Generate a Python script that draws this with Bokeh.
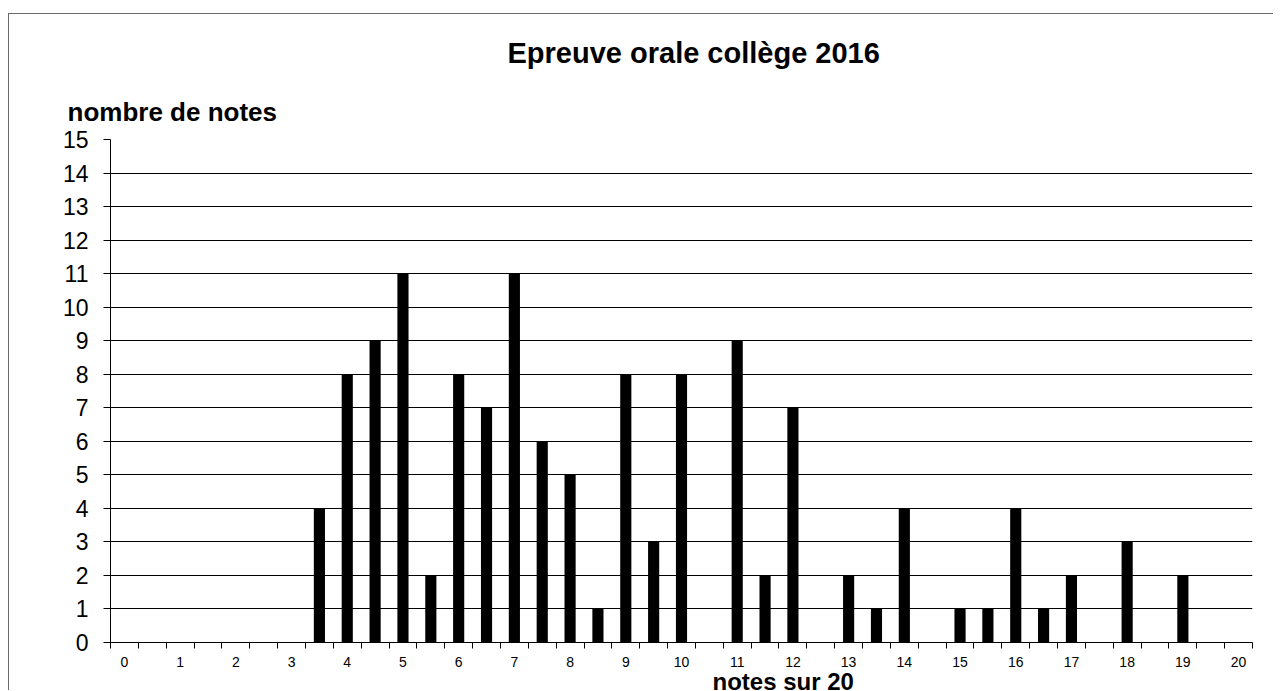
from bokeh.plotting import figure
from bokeh.models import Range1d, FixedTicker, Title
from bokeh.embed import file_html
from bokeh.resources import INLINE

# ---- data ----
notes = [0, 0.5, 1, 1.5, 2, 2.5, 3, 3.5, 4, 4.5, 5, 5.5, 6, 6.5, 7, 7.5, 8, 8.5, 9, 9.5,
         10, 10.5, 11, 11.5, 12, 12.5, 13, 13.5, 14, 14.5, 15, 15.5, 16, 16.5, 17, 17.5,
         18, 18.5, 19, 19.5, 20]
counts = [0, 0, 0, 0, 0, 0, 0, 4, 8, 9, 11, 2, 8, 7, 11, 6, 5, 1, 8, 3,
          8, 0, 9, 2, 7, 0, 2, 1, 4, 0, 1, 1, 4, 1, 2, 0,
          3, 0, 2, 0, 0]
x_tick_values = [0, 1, 2, 3, 4, 5, 6, 7, 8, 9, 10, 11, 12, 13, 14, 15, 16, 17, 18, 19, 20]
y_tick_values = [0, 1, 2, 3, 4, 5, 6, 7, 8, 9, 10, 11, 12, 13, 14, 15]
title_text = "Epreuve orale collège 2016"
y_title_text = "nombre de notes"
x_title_text = "notes sur 20"

FONT = "Liberation Sans"
step = 0.5
x_bounds = [n - step / 2 for n in notes] + [notes[-1] + step / 2]

p = figure(width=1265, height=677, output_backend="svg", toolbar_location=None,
           title=None,
           x_range=Range1d(notes[0] - step / 2, notes[-1] + step / 2),
           y_range=Range1d(0, 15),
           min_border_left=101, min_border_top=125, min_border_bottom=48,
           min_border_right=22,
           styles={"border-left": "1px solid #6a6a6a", "border-top": "1px solid #6a6a6a",
                   "margin-top": "13px", "margin-left": "8px"})
p.outline_line_color = None
p.background_fill_color = "white"
p.border_fill_color = "white"

p.vbar(x=notes, top=counts, width=0.2, fill_color="black", line_color=None)

# x axis
xa = p.xaxis[0]
xa.ticker = FixedTicker(ticks=x_tick_values, minor_ticks=x_bounds)
xa.major_tick_line_color = None
xa.major_tick_out = 6
xa.major_tick_in = 0
xa.minor_tick_line_color = "black"
xa.minor_tick_out = 6
xa.minor_tick_in = 0
xa.axis_line_color = "black"
xa.major_label_standoff = 8
xa.major_label_text_font = FONT
xa.major_label_text_font_size = "14px"
xa.major_label_text_color = "black"

# y axis
ya = p.yaxis[0]
ya.ticker = FixedTicker(ticks=y_tick_values)
ya.minor_tick_line_color = None
ya.major_tick_out = 7
ya.major_tick_in = 0
ya.major_tick_line_color = "black"
ya.axis_line_color = "black"
ya.major_label_standoff = 15
ya.major_label_text_font = FONT
ya.major_label_text_font_size = "23px"
ya.major_label_text_color = "black"

p.xgrid.grid_line_color = None
p.ygrid.grid_line_color = "black"
p.ygrid.grid_line_width = 1

# titles (first added above = nearest the frame)
p.add_layout(Title(text=y_title_text, align="left", offset=-43, standoff=25,
                   text_font=FONT, text_font_size="26px", text_font_style="bold",
                   text_color="black"), "above")
p.add_layout(Title(text=title_text, align="left", offset=397, standoff=28,
                   text_font=FONT, text_font_size="29px", text_font_style="bold",
                   text_color="black"), "above")
p.add_layout(Title(text=x_title_text, align="left", offset=602, standoff=-7,
                   text_font=FONT, text_font_size="24px", text_font_style="bold",
                   text_color="black"), "below")

open("out.html", "w").write(file_html(p, INLINE))
